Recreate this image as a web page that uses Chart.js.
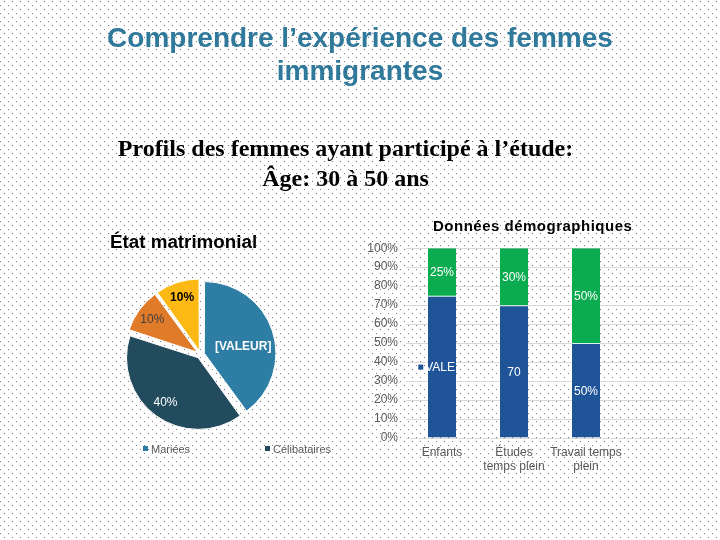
<!DOCTYPE html>
<html>
<head>
<meta charset="utf-8">
<script src="https://cdn.jsdelivr.net/npm/chart.js@4/dist/chart.umd.min.js"></script>
<style>
    body { margin: 0; width: 720px; height: 540px; position: relative; overflow: hidden; background: #fff; font-family: "Liberation Sans", Arial, sans-serif; }
    canvas { position: absolute; }
    .txt { position: absolute; white-space: nowrap; }
    #title { left: 0; top: 21px; width: 720px; text-align: center; font-weight: bold; font-size: 28px; line-height: 33px; color: #31799b; }
    #subtitle { left: 0; top: 133px; width: 691px; text-align: center; font-family: "Liberation Serif", "Times New Roman", serif; font-weight: bold; font-size: 24px; line-height: 30px; color: #000; }
    #pieTitle { left: 110px; top: 231px; font-weight: bold; font-size: 18.8px; line-height: 22px; color: #000; }
    #barTitle { left: 433px; top: 217px; font-weight: bold; font-size: 15px; letter-spacing: 0.5px; line-height: 18px; color: #000; }
    .leg { top: 442px; font-size: 11px; line-height: 14px; color: #595959; }
    .leg i { display: inline-block; width: 5px; height: 5px; margin-right: 3px; vertical-align: 2px; }
</style>
</head>
<body>
<canvas id="bg" width="720" height="540"></canvas>
<div class="txt" id="title">Comprendre l’expérience des femmes<br>immigrantes</div>
<div class="txt" id="subtitle">Profils des femmes ayant participé à l’étude:<br>Âge: 30 à 50 ans</div>
<div class="txt" id="pieTitle">État matrimonial</div>
<div class="txt" id="barTitle">Données démographiques</div>
<div class="txt leg" style="left:143px"><i style="background:#2e7da4"></i>Mariées</div>
<div class="txt leg" style="left:265px"><i style="background:#234b5e"></i>Célibataires</div>
<canvas id="pieChart" width="157" height="157" style="left:122px; top:276px"></canvas>
<canvas id="barChart" width="345" height="245" style="left:355px; top:233px"></canvas>
<script>
// Pie: État matrimonial
const pieCategories = ["Mariées", "Célibataires", "", ""];
const pieValues = [40, 40, 10, 10];
const pieLabels = ["[VALEUR]", "40%", "10%", "10%"];
const pieColors = ["#2e7da4", "#234b5e", "#e07b2a", "#fcb813"];

// Stacked bars: Données démographiques
const barCategories = [["Enfants"], ["Études", "temps plein"], ["Travail temps", "plein"], [""]];
const blueValues = [75, 70, 50];
const greenValues = [25, 30, 50];
const blueLabels = ["■ VALE", "70", "50%"];
const greenLabels = ["25%", "30%", "50%"];
const yTicks = [0, 10, 20, 30, 40, 50, 60, 70, 80, 90, 100];

const blueColor = "#1f5499";
const greenColor = "#0bab4f";

// dotted slide background
function drawBackground() {
    let ctx = document.getElementById("bg").getContext("2d");
    ctx.fillStyle = "#7a7a7a";
    for (let y = 1; y < 540; y += 8) {
        for (let x = 4; x < 724; x += 8) {
            ctx.fillRect(x, y, 1, 1);
            ctx.fillRect(x - 4, y + 4, 1, 1);
        }
    }
}

// labels inside the pie slices
const pieLabelPlugin = {
    id: "pieLabels",
    afterDatasetsDraw(chart) {
        let ctx = chart.ctx;
        let styles = [
            { color: "#fff", weight: "bold", r: 0.62, turn: 0.13 },
            { color: "#fff", weight: "normal", r: 0.85, turn: 0 },
            { color: "#404040", weight: "normal", r: 0.85, turn: 0 },
            { color: "#000", weight: "bold", r: 0.85, turn: 0 }
        ];
        chart.getDatasetMeta(0).data.forEach((arc, i) => {
            let mid = (arc.startAngle + arc.endAngle) / 2 + styles[i].turn;
            let r = arc.outerRadius * styles[i].r;
            ctx.save();
            ctx.font = styles[i].weight + " 12px 'Liberation Sans', Arial, sans-serif";
            ctx.fillStyle = styles[i].color;
            ctx.textAlign = "center";
            ctx.textBaseline = "middle";
            ctx.fillText(pieLabels[i], arc.x + Math.cos(mid) * r, arc.y + Math.sin(mid) * r);
            ctx.restore();
        });
    }
};

// labels in the middle of each bar segment
const barLabelPlugin = {
    id: "barLabels",
    afterDatasetsDraw(chart) {
        let ctx = chart.ctx;
        let texts = [blueLabels, greenLabels];
        ctx.save();
        ctx.font = "12px 'Liberation Sans', Arial, sans-serif";
        ctx.textBaseline = "middle";
        [0, 1].forEach(d => {
            chart.getDatasetMeta(d).data.forEach((bar, i) => {
                let text = texts[d][i];
                if (!text) return;
                let cy = (bar.y + bar.base) / 2;
                if (text.startsWith("■")) {
                    // truncated label with its legend key in front
                    let right = bar.x + bar.width / 2 - 1;
                    let body = text.slice(2);
                    ctx.textAlign = "right";
                    ctx.fillStyle = "#fff";
                    ctx.fillText(body, right, cy + 1);
                    let start = right - ctx.measureText(body).width;
                    ctx.fillStyle = blueColor;
                    ctx.fillRect(start - 7, cy - 2, 5, 5);
                } else {
                    ctx.textAlign = "center";
                    ctx.fillStyle = "#fff";
                    ctx.fillText(text, bar.x, cy + 1);
                }
            });
        });
        ctx.restore();
    }
};

function drawPie() {
    new Chart(document.getElementById("pieChart"), {
        type: "pie",
        data: {
            labels: pieCategories,
            datasets: [{
                data: pieValues,
                backgroundColor: pieColors,
                borderColor: "#fff",
                borderWidth: 1,
                offset: 16
            }]
        },
        options: {
            responsive: false,
            animation: false,
            plugins: { legend: { display: false }, tooltip: { enabled: false } }
        },
        plugins: [pieLabelPlugin]
    });
}

function drawBars() {
    let font = { family: "'Liberation Sans', Arial, sans-serif", size: 12 };
    new Chart(document.getElementById("barChart"), {
        type: "bar",
        data: {
            labels: barCategories,
            datasets: [{
                data: blueValues,
                backgroundColor: blueColor,
                borderColor: "#d8f4f0",
                borderWidth: { top: 1, left: 0, right: 0, bottom: 0 },
                borderSkipped: false,
                barPercentage: 0.39,
                categoryPercentage: 1
            }, {
                data: greenValues,
                backgroundColor: greenColor,
                borderWidth: 0,
                barPercentage: 0.39,
                categoryPercentage: 1
            }]
        },
        options: {
            responsive: false,
            animation: false,
            layout: { padding: { top: 5, right: 6, left: 0, bottom: 0 } },
            plugins: { legend: { display: false }, tooltip: { enabled: false } },
            scales: {
                x: {
                    stacked: true,
                    grid: { display: false, drawTicks: false },
                    border: { display: false },
                    ticks: { color: "#595959", font: { ...font, lineHeight: 1.17 }, padding: 8, maxRotation: 0, autoSkip: false },
                    afterFit(scale) { scale.height = 40; }
                },
                y: {
                    stacked: true,
                    min: 0,
                    max: 100,
                    afterBuildTicks(scale) { scale.ticks = yTicks.map(v => ({ value: v })); },
                    ticks: { color: "#595959", font: font, padding: 8, callback: v => v + "%" },
                    grid: { color: "#d9d9d9", drawTicks: false },
                    border: { display: false },
                    afterFit(scale) { scale.width = 51; }
                }
            }
        },
        plugins: [barLabelPlugin]
    });
}

drawBackground();
drawPie();
drawBars();
</script>
</body>
</html>
